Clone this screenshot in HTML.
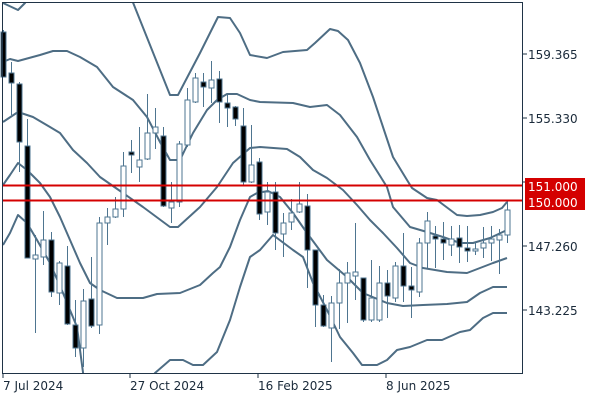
<!DOCTYPE html>
<html><head><meta charset="utf-8"><style>
html,body{margin:0;padding:0;background:#fff;width:600px;height:400px;overflow:hidden}
svg{display:block}
text{font-family:"DejaVu Sans","Liberation Sans",sans-serif;font-size:12px;fill:#1a2a3a}
</style></head><body>
<svg id="s" width="600" height="400" xmlns="http://www.w3.org/2000/svg">
<rect x="0" y="0" width="600" height="400" fill="#fff"/>
<g id="bands" fill="none" stroke="#4e6d84" stroke-width="2" stroke-linejoin="round">
<polyline points="3,3 18,10 25,3 30,-5"/>
<polyline points="128,-5 132,0 170,95 178,95 200,53 218,17 230,18 240,33 250,55 267,58 283,52 307,50 315,43 330,29 338,31 348,40 360,63 373,97 383,127 393,157 407,180 412,188 427,198 437,200 457,215 467,216 480,215 493,212 502,208 507,202"/>
<polyline points="3,62 10,59 18,61 40,55 53,51 67,51 80,57 97,67 113,87 133,100 147,117 160,142 170,160 180,160 193,133 207,110 217,100 227,94 237,94 250,100 260,102 293,103 310,107 327,105 340,115 357,137 370,160 387,187 393,207 410,227 427,232 443,237 460,243 473,243 490,238 507,230"/>
<polyline points="3,122 18,112 33,117 50,127 60,133 73,150 87,163 100,177 123,193 143,207 170,227 178,227 200,207 217,187 233,163 250,148 260,147 287,149 300,157 313,170 327,178 343,190 357,205 370,220 383,233 397,248 410,263 423,268 447,272 467,273 480,268 493,263 507,258"/>
<polyline points="3,185 10,175 18,163 27,170 40,183 50,197 60,217 70,240 80,263 90,283 100,290 117,298 143,298 157,294 180,293 200,285 213,273 220,267 230,247 240,220 250,197 257,193 268,191 280,197 293,213 307,233 327,260 347,277 363,293 387,303 403,306 423,305 447,304 467,302 480,293 493,287 507,287"/>
<polyline points="3,245 10,233 18,215 27,223 37,240 50,263 63,293 77,327 84,380"/>
<polyline points="150,380 155,373 170,360 183,360 193,365 203,365 217,352 230,320 240,287 250,257 260,250 273,235 293,250 303,257 313,283 327,310 340,337 353,353 362,365 377,365 387,360 397,350 410,347 427,340 442,340 460,332 470,330 483,318 493,313 507,313"/>
</g>
<g id="c"></g>
<rect x="0" y="374" width="600" height="26" fill="#fff"/>
<rect x="0" y="0" width="600" height="2" fill="#fff"/>
<line x1="2" y1="185.5" x2="522" y2="185.5" stroke="#d40000" stroke-width="2"/>
<line x1="2" y1="200.5" x2="522" y2="200.5" stroke="#d40000" stroke-width="2"/>
<rect x="2.5" y="2.5" width="520" height="371" fill="none" stroke="#1f3346" stroke-width="1"/>
<g stroke="#1f3346">
<line x1="522" y1="54" x2="527" y2="54"/><line x1="522" y1="118" x2="527" y2="118"/>
<line x1="522" y1="182" x2="527" y2="182"/><line x1="522" y1="246" x2="527" y2="246"/>
<line x1="522" y1="310" x2="527" y2="310"/>
<line x1="3" y1="373" x2="3" y2="378"/><line x1="130" y1="373" x2="130" y2="378"/>
<line x1="258" y1="373" x2="258" y2="378"/><line x1="386" y1="373" x2="386" y2="378"/>
</g>
<text x="528" y="59">159.365</text>
<text x="528" y="123">155.330</text>
<text x="528" y="187">151.295</text>
<text x="528" y="251">147.260</text>
<text x="528" y="315">143.225</text>
<rect x="525" y="178" width="60" height="17" fill="#d40000"/>
<rect x="525" y="194" width="60" height="16" fill="#d40000"/>
<text x="528" y="191" style="fill:#fff">151.000</text>
<text x="528" y="207" style="fill:#fff">150.000</text>
<text x="3" y="390">7 Jul 2024</text>
<text x="130" y="390">27 Oct 2024</text>
<text x="258" y="390">16 Feb 2025</text>
<text x="386" y="390">8 Jun 2025</text>
</svg>
<script>
var d=[[32,77,30,77],[73,83,62,115],[84,142,82,172],[146,258,119,258],[259,255,235,333],[257,240,211,265],[240,292,232,297],[293,263,261,305],[266,324,246,325],[325,348,300,357],[348,301,289,367],[299,326,257,328],[325,223,217,334],[223,217,208,245],[217,209,197,218],[209,166,152,217],[152,155,140,173],[167,160,127,182],[159,133,94,160],[133,127,108,149],[136,206,127,207],[208,202,182,223],[202,144,141,207],[145,100,88,147],[102,78,73,103],[82,87,73,107],[88,80,61,103],[79,102,71,123],[103,108,95,127],[107,119,106,126],[126,182,108,185],[182,165,125,183],[162,214,158,220],[212,192,182,225],[192,233,182,250],[234,223,213,257],[222,213,199,230],[212,204,182,213],[206,250,194,288],[250,305,250,327],[305,326,295,327],[328,303,296,362],[303,283,269,329],[283,273,262,323],[276,272,223,300],[278,320,278,322],[320,298,260,322],[320,283,266,322],[283,296,270,318],[298,266,262,302],[266,286,233,302],[286,290,267,318],[292,243,238,297],[243,221,212,268],[236,239,226,268],[239,243,222,260],[245,239,226,256],[238,247,225,263],[248,251,226,262],[251,249,242,255],[248,243,227,258],[243,239,226,261],[240,235,229,274],[235,210,200,243]];
var g=document.getElementById('c'),h='';
for(var i=0;i<d.length;i++){var x=3.5+8*i,o=d[i][0],c=d[i][1],hi=d[i][2],lo=d[i][3];
h+='<line x1="'+x+'" y1="'+hi+'" x2="'+x+'" y2="'+lo+'" stroke="#4e7590" stroke-width="1"/>';
var t=Math.min(o,c),b=Math.max(o,c);if(b-t<2)b=t+2;
h+='<rect x="'+(x-2.5)+'" y="'+t+'" width="5" height="'+(b-t)+'" fill="'+(c<o?'#fff':'#000')+'" stroke="#4e7590" stroke-width="1"/>';}
g.innerHTML=h;
</script>
</body></html>
